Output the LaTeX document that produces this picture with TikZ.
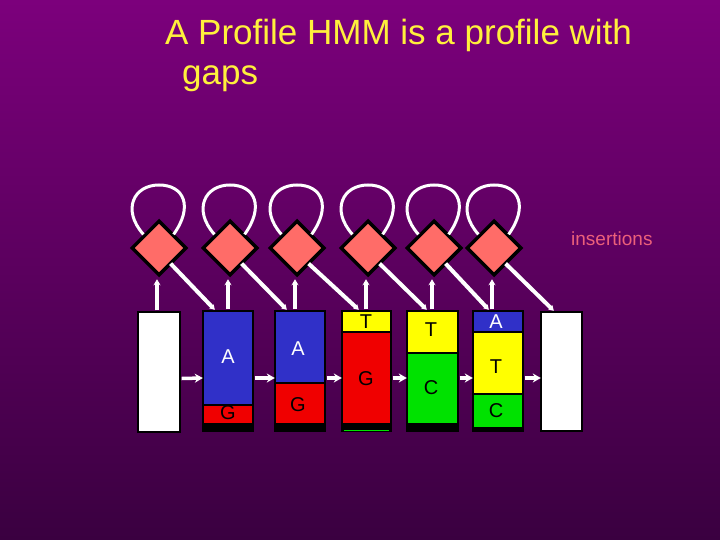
\documentclass[tikz,border=0pt]{standalone}
\usepackage{fontspec}
\setmainfont{Liberation Sans}
\usetikzlibrary{shapes.geometric,arrows.meta,calc}
\definecolor{bgtop}{RGB}{124,0,124}
\definecolor{bgbot}{RGB}{58,0,64}
\definecolor{titleyellow}{RGB}{255,240,60}
\definecolor{salmon}{RGB}{255,108,104}
\definecolor{pinktext}{RGB}{236,96,122}
\definecolor{segblue}{RGB}{48,48,200}
\definecolor{segred}{RGB}{240,0,0}
\definecolor{segyellow}{RGB}{255,255,0}
\definecolor{seggreen}{RGB}{0,226,0}
\tikzset{
  insdiamond/.style={diamond, aspect=1, minimum width=55pt, minimum height=55pt, inner sep=0pt,
    fill=salmon, draw=black, line width=3.5pt},
  boxframe/.style={rectangle, inner sep=0pt, draw=none},
  seg/.style={draw=black, line width=2.5pt},
  letter/.style={font=\fontsize{20}{20}\selectfont},
  wline/.style={draw=white, line width=3.5pt},
  harrow/.style={wline, -{Stealth[length=8pt,width=9pt]}},
  varrow/.style={wline, -{Stealth[length=6pt,width=7pt]}},
  darrow/.style={wline, line width=4pt, -{Stealth[length=5pt,width=6pt]}},
  selfloop/.style={wline, line width=3pt}
}
\begin{document}
\begin{tikzpicture}[x=1pt,y=-1pt]
\useasboundingbox (0,0) rectangle (720,540);
\shade[top color=bgtop, bottom color=bgbot] (0,0) rectangle (720,540);

% title
\node[anchor=base west, inner sep=0pt, text=titleyellow, font=\fontsize{35}{40}\selectfont] (t1) at (165,45) {A Profile HMM is a profile with};
\node[anchor=base west, inner sep=0pt, text=titleyellow, font=\fontsize{35}{40}\selectfont] (t2) at (182,85) {gaps};
\node[anchor=base west, inner sep=0pt, text=pinktext, font=\fontsize{19}{20}\selectfont] (ins) at (571,245) {insertions};

% diamonds (insert states)
\node[insdiamond] (d1) at (159,248) {};
\node[insdiamond] (d2) at (230,248) {};
\node[insdiamond] (d3) at (297,248) {};
\node[insdiamond] (d4) at (368,248) {};
\node[insdiamond] (d5) at (434,248) {};
\node[insdiamond] (d6) at (494,248) {};

% self loops
\foreach \d in {d1,d2,d3,d4,d5,d6}{
  \draw[selfloop] ($(\d.north west)+(-1,1)$) .. controls +(-22,-25) and +(-25,0) .. ($(\d)+(0,-63)$)
    .. controls +(25,0) and +(20,-28) .. ($(\d.north east)+(0,1)$);
}

% match columns
% box 1 (begin)
\filldraw[seg, fill=white] (138,312) rectangle (180,432);
\node[boxframe, minimum width=42pt, minimum height=120pt] (b1) at (159,372) {};
% box 2
\filldraw[seg, fill=segblue] (203,311) rectangle (253,405);
\filldraw[seg, fill=segred] (203,405) rectangle (253,424);
\fill[black] (201.75,424) rectangle (254.25,432);
\node[boxframe, minimum width=50pt, minimum height=121pt] (b2) at (228,371.5) {};
\node[letter, text=white] at (228,357) {A};
\node[letter, text=black] at (228,413) {G};
% box 3
\filldraw[seg, fill=segblue] (275,311) rectangle (325,383);
\filldraw[seg, fill=segred] (275,383) rectangle (325,424);
\fill[black] (273.75,424) rectangle (326.25,432);
\node[boxframe, minimum width=50pt, minimum height=121pt] (b3) at (300,371.5) {};
\node[letter, text=white] at (298,349) {A};
\node[letter, text=black] at (298,405) {G};
% box 4
\filldraw[seg, fill=segyellow] (342,311) rectangle (391,332);
\filldraw[seg, fill=segred] (342,332) rectangle (391,424);
\fill[black] (340.75,424) rectangle (392.25,432);
\draw[seggreen, line width=1pt] (344,430) -- (389,430);
\node[boxframe, minimum width=49pt, minimum height=121pt] (b4) at (366.5,371.5) {};
\node[letter, text=black] at (366,322) {T};
\node[letter, text=black] at (366,379) {G};
% box 5
\filldraw[seg, fill=segyellow] (407,311) rectangle (458,353);
\filldraw[seg, fill=seggreen] (407,353) rectangle (458,424);
\fill[black] (405.75,424) rectangle (459.25,432);
\node[boxframe, minimum width=51pt, minimum height=121pt] (b5) at (432.5,371.5) {};
\node[letter, text=black] at (431,330) {T};
\node[letter, text=black] at (431,388) {C};
% box 6
\filldraw[seg, fill=segblue] (473,311) rectangle (523,332);
\filldraw[seg, fill=segyellow] (473,332) rectangle (523,394);
\filldraw[seg, fill=seggreen] (473,394) rectangle (523,428);
\fill[black] (471.75,428) rectangle (524.25,432);
\node[boxframe, minimum width=50pt, minimum height=121pt] (b6) at (498,371.5) {};
\node[letter, text=white] at (496,322) {A};
\node[letter, text=black] at (496,367) {T};
\node[letter, text=black] at (496,411) {C};
% box 7 (end)
\filldraw[seg, fill=white] (541,312) rectangle (582,431);
\node[boxframe, minimum width=41pt, minimum height=119pt] (b7) at (561.5,371.5) {};

% horizontal transitions
\draw[harrow] ([yshift=-6.5pt]b1.east) ++(1.5,0) -- ([yshift=-6.5pt]b2.west);
\draw[harrow] ([yshift=-6.5pt]b2.east) ++(1.5,0) -- ([yshift=-6.5pt]b3.west);
\draw[harrow] ([yshift=-6.5pt]b3.east) ++(1.5,0) -- ([yshift=-6.5pt]b4.west);
\draw[harrow] ([yshift=-6.5pt]b4.east) ++(1.5,0) -- ([yshift=-6.5pt]b5.west);
\draw[harrow] ([yshift=-6.5pt]b5.east) ++(1.5,0) -- ([yshift=-6.5pt]b6.west);
\draw[harrow] ([yshift=-6.5pt]b6.east) ++(1.5,0) -- ([yshift=-6.5pt]b7.west);

% match -> insert (vertical)
\draw[varrow] ($(d1.south |- b1.north)+(-2,-1.5)$) -- ($(d1.south)+(-2,2)$);
\draw[varrow] ($(d2.south |- b2.north)+(-2,-1.5)$) -- ($(d2.south)+(-2,2)$);
\draw[varrow] ($(d3.south |- b3.north)+(-2,-1.5)$) -- ($(d3.south)+(-2,2)$);
\draw[varrow] ($(d4.south |- b4.north)+(-2,-1.5)$) -- ($(d4.south)+(-2,2)$);
\draw[varrow] ($(d5.south |- b5.north)+(-2,-1.5)$) -- ($(d5.south)+(-2,2)$);
\draw[varrow] ($(d6.south |- b6.north)+(-2,-1.5)$) -- ($(d6.south)+(-2,2)$);

% insert -> next match (diagonal)
\draw[darrow] ($(d1.south east)+(-3,1)$) -- ($(b2.north west)+(12,-1)$);
\draw[darrow] ($(d2.south east)+(-3,1)$) -- ($(b3.north west)+(12,-1)$);
\draw[darrow] ($(d3.south east)+(-3,1)$) -- ($(b4.north west)+(17,-1)$);
\draw[darrow] ($(d4.south east)+(-3,1)$) -- ($(b5.north west)+(20,-1)$);
\draw[darrow] ($(d5.south east)+(-3,1)$) -- ($(b6.north west)+(16,-1)$);
\draw[darrow] ($(d6.south east)+(-3,1)$) -- ($(b7.north west)+(13,-1)$);
\end{tikzpicture}
\end{document}
